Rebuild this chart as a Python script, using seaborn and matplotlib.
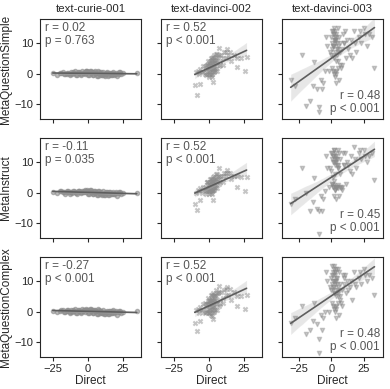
import numpy as np
import pandas as pd
import matplotlib
matplotlib.use('Agg')
import matplotlib.pyplot as plt
import seaborn as sns

models = ['text-curie-001', 'text-davinci-002', 'text-davinci-003']
prompts = ['MetaQuestionSimple', 'MetaInstruct', 'MetaQuestionComplex']

# Direct scores, one array per model (shared by all prompt rows)
direct_curie = [-25, -22, -20, -18, -16, -15, -14, -13, -12, -11, -10, -9, -8, -7, -6, -5, -4, -3, -2, -1,
                0, 1, 2, 3, 4, 5, 6, 7, 8, 9, 10, 11, 12, 13, 14, 15, 16, 17, 18, 19, 20, 21, 22, 23, 24, 25,
                35, -0.5, 0.5, 1.5, 2.5, 3.5, 4.5, 5.5, 6.5, 7.5, -2.5, -4.5, 10.5, 12.5,
                -19, -17, -10.5, -8.5, -6.5, -3.5, -1.5, 8.5, 9.5, 11.5, 13.5, 14.5, 15.5, 16.5, 17.5, 18.5,
                20.5, 22.5, -12.5, -14.5]
direct_d002 = [-3, -2.5, -2, -1.5, -1, -0.5, 0, 0.5, 1, 1.5, 2, 2.5, 3, 3.5, 4, 4.5, 5, 5.5, 6, 6.5,
               -2, -1, 0, 1, 2, 3, 4, 5, 6, 7,
               -1.5, -0.5, 0.5, 1.5, 2.5, 3.5, 4.5, 5.5, 7.5, 8,
               0, 1, 2, 3, 4, 0.5, 1.5, 2.5, 3.5, 4.5,
               1, 2, 3, 2, 1, 3, 0, 4, 2.5, 1.5,
               -9, -8, -7, -6, -5, -4, 8, 9, 10, 11, 12, 13, 14, 15, 16, 18, 20, -6.4, -10, -8.3,
               25.7, 20, 27, 23, 3, 10, 12, -4, 7, 6]
direct_d003 = [0, 0.5, 1, 1.5, 2, 2.5, 3, 3.5, 4, 4.5, 5, 5.5, 6, 6.5, 7, 0, 1, 2, 3, 4,
               5, 6, 1, 2, 3, 4, 0.5, 1.5, 2.5, 3.5, 4.5, 5.5, -1, -2, -3, -4, 8, 9, 10, 11,
               12, 0.8, 2.2, 3.8, 6.5, 8.5, 1.2, 2.8, 4.2, 5.2, 0.2, 1.8, 3.2, 4.8, 7.5, 9.5, 10.5, 2, 3, 4,
               13, 15, 17, 19, 21, 23, 25, 27, 29, 31, 33, 16, 22, 14, 18, 26,
               -31, -28, -22.6, -19, -16.5, -13, -11, -9, -7, -6, -5, -9.7, -14, -8]

# Meta scores per model / prompt
curie_simple = [0.2, -0.3, 0.1, 0.4, -0.2, 0.0, 0.3, -0.5, 0.6, -0.1, 0.2, 0.8, -0.4, 0.5, 0.1, -0.6, 0.7, 0.3, -0.2, 0.9,
                0.4, -0.3, 1.0, 0.6, -0.5, 0.8, 0.2, -0.7, 0.5, 0.3, -0.4, 0.6, -0.8, 0.1, 0.4, -0.6, 0.2, -0.3, 0.5, -0.1,
                0.3, -0.9, 0.0, 0.4, -0.2, 0.1, 0.3, 0.7, -0.5, 0.9, 0.2, -0.4, 0.6, 0.1, -0.7, 0.8, 0.3, -0.2, -0.6, 0.0,
                0.3, -0.2, 0.5, -0.4, 0.6, 0.2, 0.7, -0.5, 0.4, -0.6, 0.1, -0.7, 0.3, -0.3, 0.2, -0.5, 0.0, 0.4, -0.1, 0.3]
curie_instruct = [0.3, -0.2, 0.4, 0.1, -0.3, 0.2, 0.5, -0.4, 0.3, 0.0, 0.6, 0.2, -0.5, 0.4, 0.7, -0.2, 0.5, 0.1, 0.8, 0.3,
                  0.6, -0.4, 0.9, 0.2, -0.6, 0.7, 0.1, -0.8, 0.4, 0.0, -0.5, 0.5, -0.9, 0.2, 0.3, -0.7, 0.1, -0.4, 0.3, -0.3,
                  0.2, -1.0, -0.2, 0.1, -0.4, -0.1, -0.2, 0.8, -0.4, 1.0, 0.3, -0.3, 0.5, 0.0, -0.8, 0.6, 0.5, 0.1, -0.9, -0.1,
                  0.4, 0.1, 0.5, -0.2, 0.6, 0.3, 0.5, -0.6, 0.2, -0.7, 0.0, -0.8, 0.2, -0.4, 0.0, -0.6, -0.2, 0.1, 0.3, 0.5]
curie_complex = [0.3, 0.0, 0.3, 0.5, -0.1, 0.1, 0.4, -0.4, 0.7, 0.0, 0.3, 0.8, -0.3, 0.5, 0.2, -0.5, 0.8, 0.4, -0.1, 0.9,
                 0.4, -0.3, 0.9, 0.5, -0.6, 0.7, 0.1, -0.8, 0.4, 0.2, -0.5, 0.5, -0.9, 0.0, 0.3, -0.7, 0.1, -0.4, 0.4, -0.2,
                 0.2, -1.0, -0.1, 0.3, -0.3, 0.0, 0.1, 0.7, -0.5, 0.9, 0.2, -0.4, 0.6, 0.1, -0.7, 0.8, 0.4, -0.1, -0.5, 0.0,
                 0.4, -0.1, 0.5, -0.3, 0.6, 0.3, 0.6, -0.6, 0.3, -0.7, 0.0, -0.8, 0.2, -0.4, 0.1, -0.6, -0.1, 0.3, 0.0, 0.4]
d002_simple = [0, 2.5, -0.5, 3, 0.5, 4, -1, 3.5, 1, 5, 0, 4.5, 1.5, 6, 0.5, 5, 2, 6.5, 1, 5.5,
               1.5, 3, 2, 4, -1, 5.5, 3, 4.5, 3.5, 2.5,
               0, 2, 0, 2.5, 1.5, 3.5, 1, 4, 6, 3,
               3, 1.5, 3.5, 0.5, 4.5, 2, -0.5, 3, 2, 3.5,
               2.5, 2, 3, 4.5, 0, 2.5, 0.5, 1.5, 5, 3.5,
               0.5, 1, 0, 1.5, 0.5, 2.5, 4, 6, 5, 7, 5, 8, 6, 7, 4, 6, 5, -3.3, -3.9, -7,
               0.8, 2.2, 5.6, 5.2, -2.8, 3, 7, 0.5, 8.3, 6.5]
d002_instruct = [0.5, 2, -0.5, 3.5, 1, 3.5, -0.5, 3, 1.5, 4.5, 0.5, 4, 1, 5.5, 1, 4.5, 2.5, 6, 1.5, 5,
                 1, 3.5, 1.5, 4.5, -0.5, 5, 2.5, 4, 4, 3,
                 0.5, 1.5, 0.5, 3, 1, 3, 1.5, 4.5, 5.5, 3.5,
                 2.5, 2, 3, 1, 4, 1.5, 0, 3.5, 2.5, 3,
                 2, 2.5, 3.5, 4, 0.5, 2, 1, 2, 4.5, 3,
                 0, 1, 0.5, 1.5, 0, 2, 4.5, 5.5, 5.5, 6.5, 5.5, 7.5, 6.5, 6.5, 4.5, 5.5, 5.5, -2.5, -3.8, -5.8,
                 0.5, 1.8, 5.2, 5.0, -2.5, 3.5, 6.5, 1, 8, 6]
d002_complex = [-0.5, 3, 0, 2.5, 0, 4.5, -0.5, 4, 0.5, 5.5, 0.5, 4, 2, 5.5, 0, 5.5, 2.5, 7, 0.5, 6,
                2, 2.5, 2.5, 3.5, -1.5, 6, 3.5, 5, 3, 2,
                0.5, 2.5, -0.5, 2, 2, 4, 0.5, 3.5, 6.5, 2.5,
                3.5, 1, 4, 0, 5, 2.5, -1, 2.5, 1.5, 4,
                3, 1.5, 2.5, 5, -0.5, 3, 1, 1, 5.5, 4,
                0.5, 1, -0.5, 1.5, 0.5, 2.5, 4, 6.5, 4.5, 7, 5.5, 8, 5.5, 7.5, 4, 6.5, 5, -3, -3.8, -6.5,
                0.8, 2.0, 5.5, 5.3, -2.5, 3, 7.5, 0, 8.5, 6]
d003_simple = [12, 10, 14, 9, 13, 11, -1, 0, 1, 8, 2, 7, 12, 3, 10, 6, 9, 5, 11, 13,
               8, -2, 1, 15, 0.5, 11, 2, 6, 14, -3, 10, 4, 7, 1, 9, 12, 8, 13, 10, 5,
               11, 14, 9, 12, 7, 3, 13, 10, 6, 15, 8, 11, 12, 9, 2, 10, 14, 0, 7, 4,
               8, 11, 14, 7, 12, 10, 15, 9, 13, 12, 2, 5, 14, 6, 10, 13,
               -2.2, -4, 6.1, -10.8, -8.9, 3.9, -5, -12.8, -5, -3, 1, -11, -4, -2]
d003_instruct = [13, 11, 12, 2, 14, 10, 1, 2, 1.5, 9, 2.5, 8, 13, 2, 11, 7, 10, 4, 12, 12,
                 9, -1, 2, 14, 1, 10, 3, 5, 13, -2, 11, 1.5, 8, 2, 8, 12, 2, 13, 9, 3,
                 10, 13, 2.5, 11, 6, 1, 12, 9, 2, 14, 3, 10, 11, 8, 1.5, 9, 13, -1, 6, 2,
                 9, 12, 15, 8, 13, 11, 14, 10, 12, 13, 4.1, 6, 14, 7, 11, 12,
                 -3.7, -2, 8, 0, -6, 4.7, -5.3, -13.7, -5.9, -2, 0.5, -6, -3, -1]
d003_complex = [11, 12, 13, 8, 14, 10, 0, 1, 2, 9, 3, 6, 13, 4, 9, 7, 10, 6, 12, 14,
                7, -1, 2, 15, 1.5, 10, 3, 7, 13, -2, 11, 5, 8, 0, 10, 13, 7, 12, 9, 6,
                10, 15, 8, 11, 5, 2, 12, 9, 7, 14, 9, 10, 13, 8, 3, 11, 12, 1, 6, 5,
                7, 10, 13, 8, 11, 9, 14, 10, 12, 11, 5.5, 4, 13, 8, 9, 12,
                -3.6, -2, 2, -7.3, -6, 3, -4, -13.6, -6, -2, 0, -9, -3, -1]

stats = [['r = 0.02\np = 0.763', 'r = 0.52\np < 0.001', 'r = 0.48\np < 0.001'],
         ['r = -0.11\np = 0.035', 'r = 0.52\np < 0.001', 'r = 0.45\np < 0.001'],
         ['r = -0.27\np < 0.001', 'r = 0.52\np < 0.001', 'r = 0.48\np < 0.001']]

directs = [direct_curie, direct_d002, direct_d003]
metas = [[curie_simple, d002_simple, d003_simple],
         [curie_instruct, d002_instruct, d003_instruct],
         [curie_complex, d002_complex, d003_complex]]
markers = ['o', 'x', 'v']
alphas = [0.6, 0.5, 0.45]
xlims = [(-34, 38), (-34, 38), (-37.5, 39.5)]

sns.set_theme(style='ticks')
plt.rcParams['font.family'] = ['Liberation Sans', 'DejaVu Sans']

fig, axes = plt.subplots(3, 3, figsize=(3.9, 3.89), dpi=100, sharey=True, sharex='col')
for i, prompt in enumerate(prompts):
    for j, model in enumerate(models):
        ax = axes[i, j]
        df = pd.DataFrame({'Direct': directs[j], prompt: metas[i][j]})
        sns.regplot(data=df, x='Direct', y=prompt, ax=ax, marker=markers[j], color='gray',
                    scatter_kws={'s': 9, 'alpha': alphas[j], 'color': '#8c8c8c'},
                    line_kws={'color': '#5e5e5e', 'lw': 1.2})
        if j < 2:
            ax.text(0.05, 0.97, stats[i][j], transform=ax.transAxes, ha='left', va='top',
                    fontsize=8.5, color='#555555', linespacing=1.1)
        else:
            ax.text(0.97, 0.04, stats[i][j], transform=ax.transAxes, ha='right', va='bottom',
                    fontsize=8.5, color='#555555', linespacing=1.1)
        ax.set_xlim(*xlims[j])
        ax.set_ylim(-15, 18)
        ax.set_xticks([-25, 0, 25])
        ax.set_yticks([-10, 0, 10])
        ax.tick_params(labelsize=8, length=3, width=0.8, pad=2)
        for s in ax.spines.values():
            s.set_linewidth(0.8)
        if i == 0:
            ax.set_title(model, fontsize=8.2, pad=5)
        ax.set_xlabel('Direct' if i == 2 else '', fontsize=8.5, labelpad=1)
        ax.set_ylabel(prompt if j == 0 else '', fontsize=8.5, labelpad=2)

plt.subplots_adjust(left=0.103, right=0.982, top=0.951, bottom=0.082, wspace=0.2, hspace=0.19)
plt.savefig('out.png', dpi=100)
